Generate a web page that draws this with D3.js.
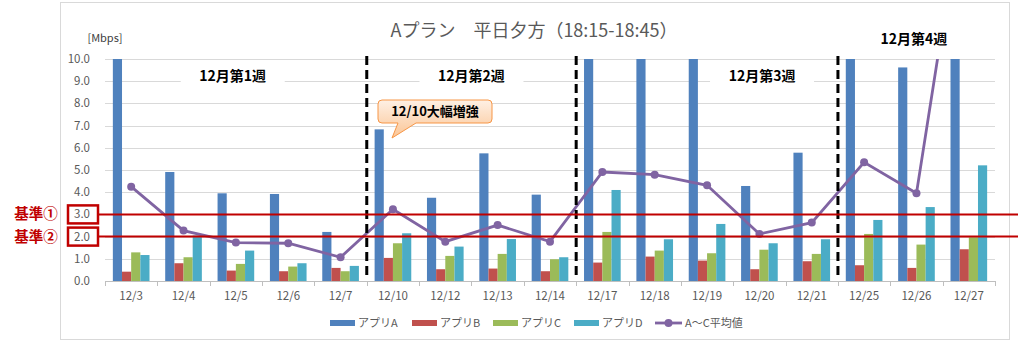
<!DOCTYPE html>
<html>
<head>
<meta charset="utf-8">
<script src="https://cdn.jsdelivr.net/npm/d3@7"></script>
<style>
body{margin:0;background:#fff;}
svg{display:block;font-family:"Noto Sans CJK JP","Noto Sans",sans-serif;}
</style>
</head>
<body>
<svg id="svg" width="1018" height="344"></svg>
<script>
var days = ["12/3","12/4","12/5","12/6","12/7","12/10","12/12","12/13","12/14","12/17","12/18","12/19","12/20","12/21","12/25","12/26","12/27"];
var appA = [11.0,4.91,3.95,3.92,2.21,6.83,3.75,5.75,3.89,11.7,11.9,10.8,4.28,5.78,13.2,9.62,53.6];
var appB = [0.42,0.80,0.47,0.44,0.59,1.04,0.53,0.56,0.44,0.83,1.10,0.92,0.53,0.89,0.71,0.59,1.43];
var appC = [1.29,1.07,0.77,0.65,0.44,1.70,1.13,1.22,0.98,2.21,1.37,1.25,1.41,1.22,2.12,1.64,1.97];
var appD = [1.17,2.05,1.37,0.80,0.68,2.15,1.55,1.89,1.07,4.10,1.88,2.57,1.70,1.88,2.75,3.33,5.21];
var avgAC = [4.25,2.27,1.73,1.70,1.07,3.23,1.77,2.52,1.77,4.91,4.79,4.31,2.12,2.63,5.35,3.95,19.0];
var seriesNames = ["アプリA","アプリB","アプリC","アプリD"];
var seriesColors = ["#4f81bd","#c0504d","#9bbb59","#4bacc6"];
var lineName = "A～C平均値";
var yTicks = [0,1,2,3,4,5,6,7,8,9,10];
var weekNames = ["12月第1週","12月第2週","12月第3週","12月第4週"];
var weekSplits = ["12/10","12/17","12/25"];
var baseLabels = ["基準①","基準②"];
var baseValues = [3,2];

var svg = d3.select("#svg");
var plotL = 105, plotR = 995, plotT = 59, plotB = 281;
// where each week label sits, in category units, and whether it sits above the plot
var weekPos = [1.94, 6.5, 12.05, 14.95];
var weekUp = [false,false,false,true];

// chart frame
svg.append("rect").attr("x",60.5).attr("y",2.5).attr("width",949).attr("height",337).attr("fill","#fff").attr("stroke","#d9d9d9");

var x = d3.scaleBand().domain(days).range([plotL,plotR]).paddingInner(0.3).paddingOuter(0.15);
var xs = d3.scaleBand().domain([0,1,2,3]).range([0,x.bandwidth()]);
var y = d3.scaleLinear().domain([0,10]).range([plotB,plotT]);
function edge(d){ return x(d) - x.step()*x.paddingInner()/2; }
function mid(d){ return x(d) + x.bandwidth()/2; }

var defs = svg.append("defs");
defs.append("clipPath").attr("id","plot").append("rect").attr("x",plotL).attr("y",plotT).attr("width",plotR-plotL).attr("height",plotB-plotT);

// gridlines
svg.append("g").selectAll("line").data(yTicks.slice(1)).enter().append("line")
	.attr("x1",plotL).attr("x2",plotR).attr("y1",function(d){return Math.round(y(d))+0.5;}).attr("y2",function(d){return Math.round(y(d))+0.5;})
	.attr("stroke","#d9d9d9");

// y axis labels
svg.append("g").selectAll("text").data(yTicks).enter().append("text")
	.attr("x",90).attr("y",function(d){return y(d)+4;}).attr("text-anchor","end")
	.attr("font-size",11.5).attr("fill","#595959").text(function(d){return d.toFixed(1);});
svg.append("text").attr("x",105).attr("y",42).attr("text-anchor","middle").attr("font-size",11).attr("fill","#404040").text("[Mbps]");

// week labels with white background
weekNames.forEach(function(name,i){
	var cx = mid(days[0]) + weekPos[i]*x.step();
	var cy = weekUp[i] ? 39 : 76;
	if(!weekUp[i]){
		svg.append("rect").attr("x",cx-52).attr("y",cy-10).attr("width",104).attr("height",20).attr("fill","#fff");
	}
	svg.append("text").attr("x",cx).attr("y",cy+5).attr("text-anchor","middle").attr("font-size",14).attr("font-weight","bold").attr("fill","#000").text(name);
});

// bars
var data = [appA,appB,appC,appD];
var bars = svg.append("g").attr("clip-path","url(#plot)");
data.forEach(function(vals,i){
	bars.selectAll("rect.s"+i).data(vals).enter().append("rect").attr("class","s"+i)
		.attr("x",function(d,j){return x(days[j]) + xs(i);})
		.attr("width",xs.bandwidth())
		.attr("y",function(d){return y(d);})
		.attr("height",function(d){return plotB - y(d);})
		.attr("fill",seriesColors[i]);
});

// x axis
svg.append("line").attr("x1",plotL).attr("x2",plotR).attr("y1",plotB+0.5).attr("y2",plotB+0.5).attr("stroke","#bfbfbf");
var tickXs = days.map(edge).concat([plotR]);
svg.append("g").selectAll("line").data(tickXs).enter().append("line")
	.attr("x1",function(d){return Math.round(d)+0.5;}).attr("x2",function(d){return Math.round(d)+0.5;})
	.attr("y1",plotB).attr("y2",plotB+5).attr("stroke","#bfbfbf");
svg.append("g").selectAll("text").data(days).enter().append("text")
	.attr("x",mid).attr("y",300)
	.attr("text-anchor","middle").attr("font-size",11.5).attr("fill","#595959").text(function(d){return d;});

// average line
var lineG = svg.append("g").attr("clip-path","url(#plot)");
var line = d3.line().x(function(d,j){return mid(days[j]);}).y(function(d){return y(d);});
lineG.append("path").datum(avgAC).attr("d",line).attr("fill","none").attr("stroke","#8064a2").attr("stroke-width",2.8);
lineG.selectAll("circle").data(avgAC).enter().append("circle")
	.attr("cx",function(d,j){return mid(days[j]);}).attr("cy",function(d){return y(d);})
	.attr("r",4).attr("fill","#8064a2");

// week separators
svg.append("g").selectAll("line").data(weekSplits).enter().append("line")
	.attr("x1",function(d){return edge(d);}).attr("x2",function(d){return edge(d);})
	.attr("y1",56).attr("y2",279).attr("stroke","#000").attr("stroke-width",3).attr("stroke-dasharray","9,5");

// baselines
baseValues.forEach(function(v,i){
	var yy = y(v);
	svg.append("line").attr("x1",98).attr("x2",1018).attr("y1",yy).attr("y2",yy).attr("stroke","#c00000").attr("stroke-width",2);
	svg.append("rect").attr("x",68).attr("y",yy-9).attr("width",30).attr("height",18).attr("fill","none").attr("stroke","#c00000").attr("stroke-width",2.5);
	svg.append("text").attr("x",36).attr("y",yy+5).attr("text-anchor","middle").attr("font-size",14.5).attr("font-weight","bold").attr("fill","#c00000").text(baseLabels[i]);
});

// callout
var grad = defs.append("linearGradient").attr("id","peach").attr("x1",0).attr("y1",0).attr("x2",0).attr("y2",1);
grad.append("stop").attr("offset","0%").attr("stop-color","#fef0e4");
grad.append("stop").attr("offset","100%").attr("stop-color","#fbc595");
var bx = 378, by = 100, bw = 114, bh = 23, r = 4;
var callPath = "M"+(bx+r)+","+by+" H"+(bx+bw-r)+" Q"+(bx+bw)+","+by+" "+(bx+bw)+","+(by+r)+
	" V"+(by+bh-r)+" Q"+(bx+bw)+","+(by+bh)+" "+(bx+bw-r)+","+(by+bh)+
	" H"+(bx+38)+" L"+(bx+14)+","+(by+38)+" L"+(bx+20)+","+(by+bh)+
	" H"+(bx+r)+" Q"+bx+","+(by+bh)+" "+bx+","+(by+bh-r)+" V"+(by+r)+" Q"+bx+","+by+" "+(bx+r)+","+by+" Z";
svg.append("path").attr("d",callPath).attr("fill","url(#peach)").attr("stroke","#f79646").attr("stroke-width",1);
svg.append("text").attr("x",bx+bw/2).attr("y",by+16).attr("text-anchor","middle").attr("font-size",13).attr("font-weight","bold").attr("fill","#000").text("12/10大幅増強");

// title
svg.append("text").attr("x",534).attr("y",37).attr("text-anchor","middle").attr("font-size",18).attr("fill","#595959").text("Aプラン　平日夕方（18:15-18:45）");

// legend
var legX = [330,412,493,574];
seriesNames.forEach(function(n,i){
	svg.append("rect").attr("x",legX[i]).attr("y",320).attr("width",25).attr("height",6).attr("fill",seriesColors[i]);
	svg.append("text").attr("x",legX[i]+28).attr("y",327).attr("font-size",11).attr("fill","#595959").text(n);
});
svg.append("line").attr("x1",655).attr("x2",682).attr("y1",323).attr("y2",323).attr("stroke","#8064a2").attr("stroke-width",2.8);
svg.append("circle").attr("cx",668.5).attr("cy",323).attr("r",4).attr("fill","#8064a2");
svg.append("text").attr("x",685).attr("y",327).attr("font-size",11).attr("fill","#595959").text(lineName);
</script>
</body>
</html>
